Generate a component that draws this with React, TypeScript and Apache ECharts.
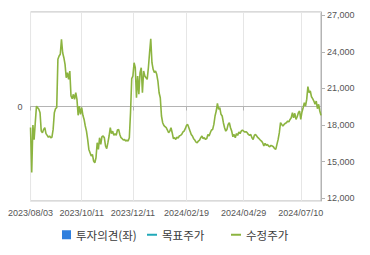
import React, { useEffect, useRef } from "react";
import * as echarts from "echarts";

// Trading-day calendar (KRX), 2023/08/03 – 2024/08/02
const START_DATE = "2023-08-03";
const END_DATE = "2024-08-02";
const HOLIDAYS = [
  "2023-08-15", "2023-09-28", "2023-09-29", "2023-10-02", "2023-10-03", "2023-10-09",
  "2023-12-25", "2023-12-29", "2024-01-01", "2024-02-09", "2024-02-12", "2024-03-01",
  "2024-04-10", "2024-05-01", "2024-05-06", "2024-05-15", "2024-06-06",
];

const xTickLabels = ["2023/08/03", "2023/10/11", "2023/12/11", "2024/02/19", "2024/04/29", "2024/07/10"];

const rightTicks = [12000, 15000, 18000, 21000, 24000, 27000];

const adjustedPrice = [
  17800, 14100, 18000, 16800, 18200, 19550, 19420, 19290, 19010, 17500,
  17370, 17640, 17780, 17300, 17150, 17000, 17100, 16960, 17000, 17640,
  19000, 19340, 19420, 23400, 23660, 23800, 25030, 23930, 23520, 22980,
  21880, 22300, 21750, 22430, 20380, 20160, 20520, 20100, 20650, 20100,
  18800, 19560, 18880, 19420, 18800, 18460, 17920, 17500, 16820, 16000,
  15730, 15460, 15590, 15050, 14910, 15320, 16550, 16000, 16960, 16410,
  17040, 17100, 16960, 16280, 16060, 16550, 17100, 17780, 17300, 17500,
  17150, 17300, 17150, 17590, 17640, 17230, 16960, 16880, 16770, 16820,
  16690, 16770, 16690, 16960, 19010, 21800, 22020, 23110, 22700, 20240,
  22020, 20520, 22300, 22700, 20650, 22430, 22020, 21880, 21750, 22700,
  23930, 25080, 23110, 22570, 22300, 22430, 22160, 21610, 20650, 20240,
  18740, 18190, 17970, 17860, 17780, 17590, 17370, 17500, 17780, 17370,
  16880, 16960, 16820, 17000, 16930, 17100, 17150, 17230, 17430, 17500,
  17700, 17970, 18050, 17780, 17500, 17230, 17100, 16880, 16770, 16600,
  16550, 16690, 16770, 16960, 17100, 16880, 16960, 16820, 16880, 17230,
  17100, 17370, 17590, 17640, 18050, 18740, 19150, 19780, 19290, 19420,
  18880, 18740, 18190, 17780, 17500, 17640, 18050, 18190, 17780, 17500,
  17040, 17230, 16960, 17300, 17150, 17430, 17300, 17500, 17590, 17500,
  17430, 17450, 17370, 17230, 17150, 17230, 16960, 16820, 17150, 17230,
  17100, 16960, 16880, 16770, 16690, 16550, 16280, 16500, 16330, 16410,
  16280, 16220, 16330, 16280, 16220, 16060, 16000, 16410, 16820, 17370,
  18190, 18050, 17920, 18050, 18140, 18190, 18330, 18250, 18460, 18600,
  19010, 18600, 18960, 18460, 18680, 19010, 19150, 18460, 19070, 19420,
  19830, 19560, 20100, 21150, 20650, 20790, 20320, 20160, 19970, 19700,
  19970, 19340, 19700, 19150, 18790,
];

const opinion: number[] = [];
const targetPrice: number[] = [];

function buildDates(): string[] {
  const out: string[] = [];
  const hol = new Set(HOLIDAYS);
  const d = new Date(START_DATE + "T00:00:00Z");
  const end = new Date(END_DATE + "T00:00:00Z");
  while (d <= end) {
    const day = d.getUTCDay();
    const iso = d.toISOString().slice(0, 10);
    if (day !== 0 && day !== 6 && !hol.has(iso)) out.push(iso.replace(/-/g, "/"));
    d.setUTCDate(d.getUTCDate() + 1);
  }
  return out;
}

const dates = buildDates();

export default function App() {
  const ref = useRef<HTMLDivElement>(null);
  useEffect(() => {
    if (!ref.current) return;
    const chart = echarts.init(ref.current, null, { renderer: "svg" });
    const labelSet = new Set(xTickLabels);
    const showAt = (_i: number, v: string) => labelSet.has(v);
    const axisFont = { fontFamily: "Liberation Sans, Arial, sans-serif", fontSize: 9, color: "#555" };
    const legendText = { fontFamily: "Noto Sans CJK KR, sans-serif", fontSize: 11.5, color: "#3a3a3a" };
    chart.setOption({
      animation: false,
      grid: { left: 21, right: 49, top: 12, bottom: 54, show: true, borderColor: "#b4b4b4", borderWidth: 1 },
      legend: [
        { data: [{ name: "투자의견(좌)", icon: "rect" }], left: 57, top: 229, padding: 0, itemWidth: 9, itemHeight: 9, textStyle: legendText },
        { data: [{ name: "목표주가", icon: "rect" }], left: 142, top: 229, padding: 0, itemWidth: 10, itemHeight: 2, textStyle: legendText },
        { data: [{ name: "수정주가", icon: "rect" }], left: 226, top: 229, padding: 0, itemWidth: 10, itemHeight: 2, textStyle: legendText },
      ],
      xAxis: {
        type: "category",
        data: dates,
        boundaryGap: false,
        axisLine: { show: true, lineStyle: { color: "#b4b4b4" } },
        axisTick: { show: true, interval: showAt, length: 4, lineStyle: { color: "#b4b4b4" } },
        axisLabel: { interval: showAt, margin: 7, ...axisFont },
        splitLine: { show: true, interval: showAt, lineStyle: { color: "#e6e6e6" } },
      },
      yAxis: [
        {
          type: "value",
          min: -1,
          max: 1,
          interval: 1,
          position: "left",
          axisLine: { show: false },
          axisTick: { show: false },
          axisLabel: { formatter: (v: number) => (v === 0 ? "0" : ""), margin: 8, ...axisFont },
          splitLine: { show: true, lineStyle: { color: "#e6e6e6" } },
        },
        {
          type: "value",
          min: 11770,
          max: 27270,
          position: "right",
          axisLine: { show: true, lineStyle: { color: "#b4b4b4" } },
          axisTick: { show: true, customValues: rightTicks, length: 4, lineStyle: { color: "#b4b4b4" } },
          axisLabel: {
            customValues: rightTicks,
            margin: 6,
            formatter: (v: number) => v.toLocaleString("en-US"),
            ...axisFont,
          },
          splitLine: { show: false },
        },
      ],
      series: [
        { name: "투자의견(좌)", type: "bar", yAxisIndex: 0, data: opinion, itemStyle: { color: "#2f7fde" } },
        { name: "목표주가", type: "line", yAxisIndex: 1, data: targetPrice, symbol: "none", lineStyle: { color: "#21a9b8", width: 2 }, itemStyle: { color: "#21a9b8" } },
        { name: "수정주가", type: "line", yAxisIndex: 1, data: adjustedPrice, symbol: "none", lineStyle: { color: "#8cb440", width: 1.6 }, itemStyle: { color: "#8cb440" } },
      ],
    });
    return () => chart.dispose();
  }, []);
  return <div ref={ref} style={{ position: "absolute", left: 5, top: 0, width: 365, height: 255 }} />;
}
